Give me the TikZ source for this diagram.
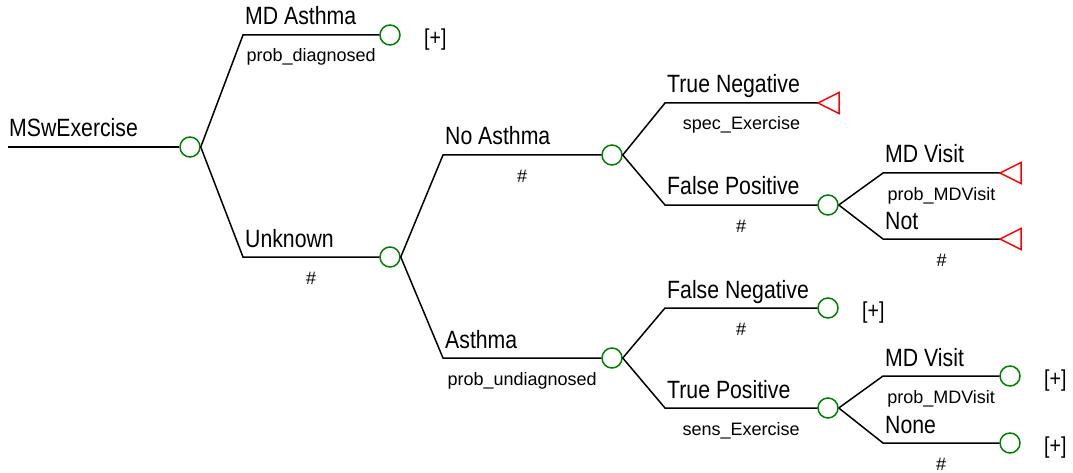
\documentclass[tikz,border=0pt]{standalone}
\usepackage{fontspec}
\setmainfont{Liberation Sans}
\newfontfamily\lblfont[FakeStretch=0.85]{Liberation Sans}
\usepackage{tikz}
\usetikzlibrary{calc}
\usepackage{xcolor}
\definecolor{chgreen}{RGB}{0,128,0}
\definecolor{termred}{RGB}{255,0,0}

\tikzset{
  chance/.style={circle, draw=chgreen, line width=1.5pt, minimum size=20pt, inner sep=0pt},
  branch/.style={line width=1.5pt, black},
  term/.style={line width=1.5pt, draw=termred},
  lbl/.style={font=\lblfont\fontsize{25}{25}\selectfont, inner sep=0pt, anchor=base west},
  prb/.style={font=\fontsize{18}{18}\selectfont, inner sep=0pt, anchor=base},
  more/.style={font=\lblfont\fontsize{23}{23}\selectfont, inner sep=0pt, anchor=west}
}

\begin{document}
\begin{tikzpicture}[x=1pt, y=1pt]
    \useasboundingbox (0,0) rectangle (1073,472);

    % Chance nodes
    \node[chance] (c0) at (190,325) {};
    \node[chance] (c1) at (390,437) {};
    \node[chance] (c2) at (390,215) {};
    \node[chance] (c3) at (612,317) {};
    \node[chance] (c4) at (612,114) {};
    \node[chance] (c5) at (828,267) {};
    \node[chance] (c6) at (828,164) {};
    \node[chance] (c7) at (828,64) {};
    \node[chance] (c8) at (1010,96) {};
    \node[chance] (c9) at (1010,29) {};

    % Terminal ends
    \coordinate (t1) at (818,369);
    \coordinate (t2) at (1000,299);
    \coordinate (t3) at (1000,233);

    % Elbows of the branches
    \coordinate (r0) at (8,325);
    \coordinate (e1) at (243,437);
    \coordinate (e2) at (243,215);
    \coordinate (e3) at (443,317);
    \coordinate (e4) at (443,114);
    \coordinate (e5) at (665,369);
    \coordinate (e6) at (665,267);
    \coordinate (e7) at (883,299);
    \coordinate (e8) at (883,233);
    \coordinate (e9) at (665,164);
    \coordinate (e10) at (665,64);
    \coordinate (e11) at (883,96);
    \coordinate (e12) at (883,29);

    % Branch lines
    \draw[branch] (r0) -- (c0);
    \foreach \a/\b/\c in {c0/e1/c1, c0/e2/c2, c2/e3/c3, c2/e4/c4, c3/e5/t1, c3/e6/c5,
                          c5/e7/t2, c5/e8/t3, c4/e9/c6, c4/e10/c7, c7/e11/c8, c7/e12/c9}
        \draw[branch] (\a.east) -- (\b) -- (\c);

    % Terminal triangles
    \foreach \t in {t1,t2,t3}
        \draw[term] (\t) -- ++(21,10.5) -- ++(0,-21) -- cycle;

    % Branch names
    \node[lbl] (l0) at ($(r0)+(1,10)$) {MSwExercise};
    \node[lbl] (l1) at ($(e1)+(2,10)$) {MD Asthma};
    \node[lbl] (l2) at ($(e2)+(2,10)$) {Unknown};
    \node[lbl] (l3) at ($(e3)+(2,10)$) {No Asthma};
    \node[lbl] (l4) at ($(e4)+(2,10)$) {Asthma};
    \node[lbl] (l5) at ($(e5)+(2,10)$) {True Negative};
    \node[lbl] (l6) at ($(e6)+(2,10)$) {False Positive};
    \node[lbl] (l7) at ($(e7)+(2,10)$) {MD Visit};
    \node[lbl] (l8) at ($(e8)+(2,10)$) {Not};
    \node[lbl] (l9) at ($(e9)+(2,10)$) {False Negative};
    \node[lbl] (l10) at ($(e10)+(2,10)$) {True Positive};
    \node[lbl] (l11) at ($(e11)+(2,10)$) {MD Visit};
    \node[lbl] (l12) at ($(e12)+(2,10)$) {None};

    % Probabilities
    \node[prb] (p1) at ($(e1)!.5!(c1.west)+(0,-27)$) {prob\_diagnosed};
    \node[prb] (p2) at ($(e2)!.5!(c2.west)+(0,-27)$) {\#};
    \node[prb] (p3) at ($(e3)!.5!(c3.west)+(0,-27)$) {\#};
    \node[prb] (p4) at ($(e4)!.5!(c4.west)+(0,-27)$) {prob\_undiagnosed};
    \node[prb] (p5) at ($(e5)!.5!(t1)+(0,-27)$) {spec\_Exercise};
    \node[prb] (p6) at ($(e6)!.5!(c5.west)+(0,-27)$) {\#};
    \node[prb] (p7) at ($(e7)!.5!(t2)+(0,-27)$) {prob\_MDVisit};
    \node[prb] (p8) at ($(e8)!.5!(t3)+(0,-27)$) {\#};
    \node[prb] (p9) at ($(e9)!.5!(c6.west)+(0,-27)$) {\#};
    \node[prb] (p10) at ($(e10)!.5!(c7.west)+(0,-27)$) {sens\_Exercise};
    \node[prb] (p11) at ($(e11)!.5!(c8.west)+(0,-27)$) {prob\_MDVisit};
    \node[prb] (p12) at ($(e12)!.5!(c9.west)+(0,-27)$) {\#};

    % Collapsed subtrees
    \foreach \c in {c1,c6,c8,c9}
        \node[more] (m\c) at ($(\c)+(34,-5)$) {[+]};
\end{tikzpicture}
\end{document}
